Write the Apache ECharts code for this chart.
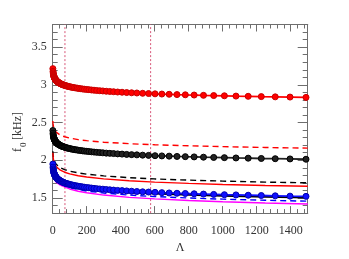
<!DOCTYPE html>
<html>
<head>
<meta charset="utf-8">
<script src="https://cdn.jsdelivr.net/npm/echarts@6/dist/echarts.min.js"></script>
<style>html,body{margin:0;padding:0;background:#fff}#c{width:349px;height:259px}</style>
</head>
<body>
<div id="c"></div>
<script>
// Λ grid of the marker series
var lamMarks = [1,2,3,4,5,6,7,8,9,10,11,12,13,14,15,16,17,18,19,21,22,24,25,27,29,31,33,35,37,40,42,45,48,51,55,58,62,67,71,76,81,86,92,98,105,112,119,127,136,145,154,165,176,187,200,213,228,243,259,277,295,315,336,358,382,408,435,464,495,529,564,602,642,685,731,780,832,887,947,1010,1078,1150,1227,1309,1396,1490];
var redCircles = [3.215,3.179,3.158,3.143,3.131,3.122,3.114,3.107,3.101,3.095,3.090,3.086,3.081,3.077,3.074,3.071,3.067,3.064,3.062,3.056,3.054,3.049,3.047,3.043,3.040,3.036,3.033,3.030,3.027,3.023,3.020,3.017,3.013,3.010,3.006,3.003,3.000,2.996,2.993,2.989,2.986,2.983,2.979,2.976,2.972,2.969,2.966,2.962,2.959,2.956,2.952,2.949,2.945,2.942,2.939,2.936,2.932,2.929,2.925,2.922,2.919,2.915,2.912,2.909,2.905,2.902,2.898,2.895,2.892,2.888,2.885,2.881,2.878,2.875,2.871,2.868,2.865,2.861,2.858,2.855,2.851,2.848,2.844,2.841,2.838,2.834];
var blackCircles = [2.395,2.359,2.338,2.323,2.311,2.302,2.294,2.287,2.281,2.275,2.270,2.266,2.261,2.257,2.254,2.251,2.247,2.244,2.242,2.236,2.234,2.229,2.227,2.223,2.220,2.216,2.213,2.210,2.207,2.203,2.200,2.197,2.193,2.190,2.186,2.183,2.180,2.176,2.173,2.169,2.166,2.163,2.159,2.156,2.152,2.149,2.146,2.142,2.139,2.136,2.132,2.129,2.125,2.122,2.119,2.116,2.112,2.109,2.105,2.102,2.099,2.095,2.092,2.089,2.085,2.082,2.078,2.075,2.072,2.068,2.065,2.061,2.058,2.055,2.051,2.048,2.045,2.041,2.038,2.035,2.031,2.028,2.024,2.021,2.018,2.014];
var blueCircles = [1.950,1.909,1.886,1.869,1.856,1.845,1.836,1.828,1.821,1.815,1.809,1.804,1.800,1.795,1.791,1.787,1.784,1.781,1.777,1.772,1.769,1.764,1.761,1.757,1.753,1.749,1.745,1.742,1.738,1.734,1.731,1.727,1.723,1.719,1.715,1.712,1.708,1.703,1.700,1.696,1.692,1.689,1.685,1.681,1.677,1.673,1.670,1.666,1.662,1.658,1.655,1.651,1.647,1.643,1.639,1.636,1.632,1.628,1.624,1.620,1.617,1.613,1.609,1.605,1.601,1.598,1.594,1.590,1.586,1.582,1.579,1.575,1.571,1.567,1.563,1.560,1.556,1.552,1.548,1.544,1.541,1.537,1.533,1.529,1.525,1.522];

// Λ grid of the plain curves
var lamLines = [1,2,3,5,7,10,15,20,30,45,70,100,150,200,300,450,600,800,1000,1250,1500];
var redDashed   = [2.520,2.486,2.466,2.441,2.425,2.407,2.387,2.373,2.353,2.333,2.312,2.294,2.274,2.260,2.240,2.220,2.206,2.192,2.181,2.170,2.161];
var blackDashed = [2.120,2.080,2.057,2.028,2.008,1.988,1.965,1.948,1.925,1.902,1.876,1.856,1.833,1.816,1.793,1.770,1.753,1.737,1.724,1.711,1.701];
var redSolid    = [2.100,2.058,2.033,2.002,1.982,1.960,1.935,1.918,1.893,1.869,1.842,1.820,1.795,1.778,1.753,1.729,1.711,1.694,1.680,1.666,1.655];
var blackSolid  = [1.920,1.881,1.858,1.829,1.810,1.790,1.767,1.751,1.728,1.705,1.680,1.660,1.637,1.621,1.598,1.575,1.559,1.543,1.530,1.517,1.507];
var blueDashed  = [1.900,1.861,1.838,1.809,1.790,1.770,1.747,1.731,1.708,1.685,1.660,1.640,1.613,1.593,1.566,1.539,1.519,1.500,1.485,1.470,1.458];
var magentaSolid= [1.860,1.825,1.805,1.780,1.763,1.745,1.725,1.710,1.690,1.670,1.648,1.620,1.590,1.569,1.539,1.509,1.488,1.467,1.450,1.434,1.420];

var vLines = [72, 576];
var xTicks = [0,200,400,600,800,1000,1200,1400];
var yTicks = [1.5,2,2.5,3,3.5];
var xMin = 0, xMax = 1500, yMin = 1.3, yMax = 3.8;

function zip(xs, ys){ return xs.map(function(x,i){ return [x, ys[i]]; }); }

var FONT = 'Liberation Serif';
var AX = '#6e6e6e';

function xAxisMaj(pos, labels){
  return {type:'value', min:xMin, max:xMax, position:pos,
    axisLine:{show:true, onZero:false, lineStyle:{color:AX, width:1}},
    axisTick:{show:true, inside:true, length:7, customValues:xTicks, lineStyle:{color:AX}},
    axisLabel:{show:labels, customValues:xTicks, fontFamily:FONT, fontSize:12, color:'#333', margin:12,
      formatter:function(v){ return String(v); }},
    splitLine:{show:false},
    name: labels ? 'Λ' : '', nameLocation:'middle', nameGap:27,
    nameTextStyle:{fontFamily:FONT, fontSize:12, color:'#333'}};
}
function xAxisMin(pos){
  return {type:'value', min:xMin, max:xMax, position:pos, interval:40,
    axisLine:{show:true, onZero:false, lineStyle:{color:AX, width:1}},
    axisTick:{show:true, inside:true, length:4, lineStyle:{color:AX}},
    axisLabel:{show:false}, splitLine:{show:false}};
}
function yAxisMaj(pos, labels){
  return {type:'value', min:yMin, max:yMax, position:pos,
    axisLine:{show:true, onZero:false, lineStyle:{color:AX, width:1}},
    axisTick:{show:true, inside:true, length:10, customValues:yTicks, lineStyle:{color:AX}},
    axisLabel:{show:labels, customValues:yTicks, fontFamily:FONT, fontSize:12, color:'#333', margin:6,
      formatter:function(v){ return String(v); }},
    splitLine:{show:false}};
}
function yAxisMin(pos){
  return {type:'value', min:yMin, max:yMax, position:pos, interval:0.1,
    axisLine:{show:true, onZero:false, lineStyle:{color:AX, width:1}},
    axisTick:{show:true, inside:true, length:5, lineStyle:{color:AX}},
    axisLabel:{show:false}, splitLine:{show:false}};
}

function curve(name, xs, ys, color, type, width){
  return {name:name, type:'line', data:zip(xs, ys), symbol:'none', xAxisIndex:0, yAxisIndex:0,
    lineStyle:{color:color, width:width, type:type}, silent:true, animation:false, z:2};
}
function marks(name, ys, color, border){
  return {name:name, type:'line', data:zip(lamMarks, ys), symbol:'circle', symbolSize:6, showAllSymbol:true,
    xAxisIndex:0, yAxisIndex:0,
    lineStyle:{color:color, width:1.8}, itemStyle:{color:color, borderColor:border, borderWidth:1},
    silent:true, animation:false, z:4};
}

var series = [];
vLines.forEach(function(v, i){
  series.push({name:'v'+i, type:'line', data:[[v,yMin],[v,yMax]], symbol:'none',
    lineStyle:{color:'#d8587a', width:1, type:[2,2]}, silent:true, animation:false, z:1});
});
series.push(curve('redDashed', lamLines, redDashed, '#ff0000', [6,4], 1.4));
series.push(curve('blackDashed', lamLines, blackDashed, '#000000', [6,4], 1.4));
series.push(curve('redSolid', lamLines, redSolid, '#ff0000', 'solid', 1.4));
series.push(curve('magentaSolid', lamLines, magentaSolid, '#ff00ff', 'solid', 1.4));
series.push(curve('blueDashed', lamLines, blueDashed, '#0000ff', [6,4], 1.4));
series.push(curve('blackSolid', lamLines, blackSolid, '#000000', 'solid', 1.8));
series.push(marks('redCircles', redCircles, '#ff0000', '#c80000'));
series.push(marks('blackCircles', blackCircles, '#222222', '#000000'));
series.push(marks('blueCircles', blueCircles, '#1010ff', '#0000b0'));

var chart = echarts.init(document.getElementById('c'), null, {renderer:'canvas'});
chart.setOption({
  animation:false,
  backgroundColor:'#ffffff',
  grid:{left:52.7, right:41.3, top:24.5, bottom:34.5, containLabel:false},
  xAxis:[xAxisMaj('bottom', true), xAxisMin('bottom'), xAxisMaj('top', false), xAxisMin('top')],
  yAxis:[yAxisMaj('left', true), yAxisMin('left'), yAxisMaj('right', false), yAxisMin('right')],
  series:series,
  graphic:[
    {type:'text', x:12, y:152, rotation:Math.PI/2,
      style:{text:'f', font:'12px "Liberation Serif"', fill:'#333', textVerticalAlign:'top'}},
    {type:'text', x:19, y:147, rotation:Math.PI/2,
      style:{text:'0', font:'9px "Liberation Serif"', fill:'#333', textVerticalAlign:'top'}},
    {type:'text', x:12, y:140, rotation:Math.PI/2,
      style:{text:'[kHz]', font:'12px "Liberation Serif"', fill:'#333', textVerticalAlign:'top'}}
  ]
});
</script>
</body>
</html>
